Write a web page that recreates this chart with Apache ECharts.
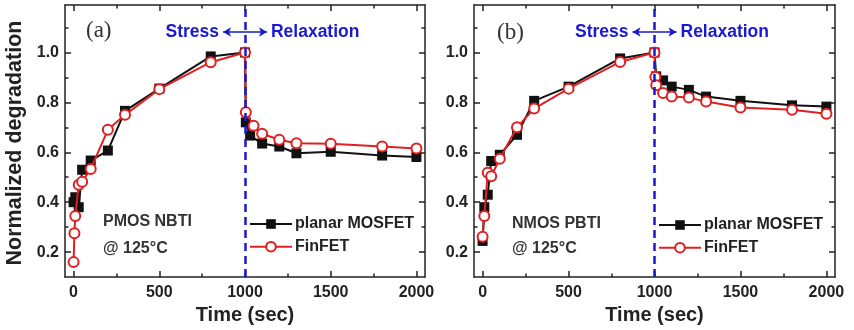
<!DOCTYPE html>
<html>
<head>
<meta charset="utf-8">
<script src="https://cdn.jsdelivr.net/npm/echarts@6/dist/echarts.min.js"></script>
<style>
  html, body { margin: 0; padding: 0; background: #fff; }
  #chart { width: 854px; height: 330px; }
</style>
</head>
<body>
<div id="chart"></div>
<script>
// Normalized degradation during stress (0-1000 s) and relaxation (1000-2000 s)

// (a) PMOS NBTI @ 125 C
const aPlanarTime = [0, 10, 30, 50, 100, 200, 300, 500, 800, 1000, 1005, 1030, 1100, 1200, 1300, 1500, 1800, 2000];
const aPlanarDeg  = [0.40, 0.42, 0.38, 0.53, 0.567, 0.607, 0.766, 0.855, 0.984, 1.0, 0.72, 0.667, 0.635, 0.623, 0.596, 0.602, 0.587, 0.581];
const aFinTime    = [0, 5, 10, 30, 50, 100, 200, 300, 500, 800, 1000, 1005, 1050, 1100, 1200, 1300, 1500, 1800, 2000];
const aFinDeg     = [0.16, 0.276, 0.345, 0.47, 0.482, 0.533, 0.69, 0.75, 0.853, 0.961, 1.0, 0.76, 0.706, 0.674, 0.65, 0.636, 0.634, 0.623, 0.615];

// (b) NMOS PBTI @ 125 C
const bPlanarTime = [0, 10, 30, 50, 100, 200, 300, 500, 800, 1000, 1010, 1050, 1100, 1200, 1300, 1500, 1800, 2000];
const bPlanarDeg  = [0.245, 0.38, 0.43, 0.565, 0.59, 0.67, 0.806, 0.863, 0.976, 1.0, 0.904, 0.888, 0.863, 0.85, 0.823, 0.806, 0.788, 0.783];
const bFinTime    = [0, 10, 30, 50, 100, 200, 300, 500, 800, 1000, 1005, 1010, 1050, 1100, 1200, 1300, 1500, 1800, 2000];
const bFinDeg     = [0.262, 0.345, 0.518, 0.504, 0.574, 0.7, 0.775, 0.855, 0.962, 1.0, 0.902, 0.869, 0.837, 0.823, 0.819, 0.803, 0.779, 0.77, 0.754];

const seriesNames = ['planar MOSFET', 'FinFET'];
const panelTags = ['(a)', '(b)'];
const panelTitles = ['PMOS NBTI', 'NMOS PBTI'];
const tempLabel = '@ 125\u00B0C';

const xMajorTicks = [0, 500, 1000, 1500, 2000];
const xMinorTicks = [250, 750, 1250, 1750];
const yMajorTicks = [0.2, 0.4, 0.6, 0.8, 1.0];
const yMinorTicks = [0.3, 0.5, 0.7, 0.9, 1.1];
const switchTime = 1000;

const FONT = '"Liberation Sans", Arial, sans-serif';
const FRAME = '#222';
const TXT = '#222';
const BLUE = '#1a1acd';
const RED = '#e02020';

const pair = (t, v) => t.map((x, i) => [x, v[i]]);

const panels = [
  { planar: pair(aPlanarTime, aPlanarDeg), fin: pair(aFinTime, aFinDeg) },
  { planar: pair(bPlanarTime, bPlanarDeg), fin: pair(bFinTime, bFinDeg) }
];

const grids = [
  { left: 65, top: 5, width: 360, height: 273 },
  { left: 474, top: 5, width: 361, height: 273 }
];

const tickStyle = { color: FRAME, width: 1.5 };

function xAxesFor(gi) {
  const base = {
    gridIndex: gi, type: 'value', min: -50, max: 2050, interval: 50,
    splitLine: { show: false }, axisLabel: { show: false },
    axisLine: { show: false, onZero: false }
  };
  return [
    Object.assign({}, base, {
      position: 'bottom',
      axisLine: { show: true, onZero: false, lineStyle: tickStyle },
      axisTick: { show: true, inside: true, length: 6, customValues: xMajorTicks, lineStyle: tickStyle },
      axisLabel: { show: true, customValues: xMajorTicks, margin: 7, fontSize: 16, fontWeight: 'bold', color: TXT, fontFamily: FONT,
                   formatter: v => String(v) },
      name: 'Time (sec)', nameLocation: 'middle', nameGap: 27,
      nameTextStyle: { fontSize: 20, fontWeight: 'bold', color: TXT, fontFamily: FONT }
    }),
    Object.assign({}, base, {
      position: 'bottom',
      axisTick: { show: true, inside: true, length: 3.5, customValues: xMinorTicks, lineStyle: tickStyle }
    }),
    Object.assign({}, base, {
      position: 'top',
      axisLine: { show: true, onZero: false, lineStyle: tickStyle },
      axisTick: { show: true, inside: true, length: 6, customValues: xMajorTicks, lineStyle: tickStyle }
    }),
    Object.assign({}, base, {
      position: 'top',
      axisTick: { show: true, inside: true, length: 3.5, customValues: xMinorTicks, lineStyle: tickStyle }
    })
  ];
}

function yAxesFor(gi) {
  const base = {
    gridIndex: gi, type: 'value', min: 0.1, max: 1.19, interval: 0.1,
    splitLine: { show: false }, axisLabel: { show: false },
    axisLine: { show: false, onZero: false }
  };
  return [
    Object.assign({}, base, {
      position: 'left',
      axisLine: { show: true, onZero: false, lineStyle: tickStyle },
      axisTick: { show: true, inside: true, length: 6, customValues: yMajorTicks, lineStyle: tickStyle },
      axisLabel: { show: true, customValues: yMajorTicks, margin: 6, fontSize: 16, fontWeight: 'bold', color: TXT, fontFamily: FONT,
                   formatter: v => v.toFixed(1) }
    }),
    Object.assign({}, base, {
      position: 'left',
      axisTick: { show: true, inside: true, length: 3.5, customValues: yMinorTicks, lineStyle: tickStyle }
    }),
    Object.assign({}, base, {
      position: 'right',
      axisLine: { show: true, onZero: false, lineStyle: tickStyle },
      axisTick: { show: true, inside: true, length: 6, customValues: yMajorTicks, lineStyle: tickStyle }
    }),
    Object.assign({}, base, {
      position: 'right',
      axisTick: { show: true, inside: true, length: 3.5, customValues: yMinorTicks, lineStyle: tickStyle }
    })
  ];
}

const xAxis = [].concat(xAxesFor(0), xAxesFor(1));
const yAxis = [].concat(yAxesFor(0), yAxesFor(1));

const series = [];
panels.forEach((p, gi) => {
  series.push({
    name: seriesNames[0], type: 'line', xAxisIndex: gi * 4, yAxisIndex: gi * 4,
    data: p.planar, symbol: 'rect', symbolSize: 10,
    lineStyle: { color: '#111', width: 2 },
    itemStyle: { color: '#111' },
    z: 3,
    markLine: {
      silent: true, animation: false,
      label: { show: false },
      symbol: 'none',
      lineStyle: { color: BLUE, width: 2.5, type: [8, 5] },
      data: [
        { xAxis: switchTime },
        [
          { coord: [872, 1.082], symbol: 'arrow', symbolSize: [7, 8], lineStyle: { type: 'solid', width: 1.6, color: BLUE } },
          { coord: [1128, 1.082], symbol: 'arrow', symbolSize: [7, 8] }
        ]
      ]
    },
    markPoint: {
      silent: true, animation: false,
      symbol: 'circle', symbolSize: 0,
      data: [
        { coord: [872, 1.082], label: { show: true, position: 'left', distance: 4, formatter: 'Stress',
          fontSize: 17.5, fontWeight: 'bold', color: BLUE, fontFamily: FONT } },
        { coord: [1128, 1.082], label: { show: true, position: 'right', distance: 4, formatter: 'Relaxation',
          fontSize: 17.5, fontWeight: 'bold', color: BLUE, fontFamily: FONT } }
      ]
    }
  });
  series.push({
    name: seriesNames[1], type: 'line', xAxisIndex: gi * 4, yAxisIndex: gi * 4,
    data: p.fin, symbol: 'circle', symbolSize: 10,
    lineStyle: { color: RED, width: 2 },
    itemStyle: { color: '#fff', borderColor: RED, borderWidth: 2 },
    z: 4
  });
});

const legendBase = {
  orient: 'vertical', data: seriesNames, itemWidth: 42, itemHeight: 12, itemGap: 6.7,
  padding: 0, selectedMode: false,
  textStyle: { fontSize: 16, fontWeight: 'bold', color: TXT, fontFamily: FONT, lineHeight: 16, padding: [0, 0, 0, -2] }
};
const legend = [
  Object.assign({}, legendBase, { left: 249, top: 216 }),
  Object.assign({}, legendBase, { left: 658, top: 217 })
];

const textStyle = (extra) => Object.assign({ fill: TXT, font: undefined, fontFamily: FONT, fontWeight: 'bold', fontSize: 16,
  verticalAlign: 'middle', align: 'left' }, extra);

const graphic = [
  { type: 'text', x: 15.5, y: 143, rotation: Math.PI / 2,
    style: textStyle({ text: 'Normalized degradation', fontSize: 21.5, align: 'center' }) }
];
[[86, 31, 103, 222, 249], [497, 33, 512, 224, 249]].forEach((pos, gi) => {
  graphic.push({ type: 'text', x: pos[0], y: pos[1],
    style: textStyle({ text: panelTags[gi], fontFamily: '"Liberation Serif", "Times New Roman", serif',
      fontWeight: 'normal', fontSize: 23, fill: '#333' }) });
  graphic.push({ type: 'text', x: pos[2], y: pos[3], style: textStyle({ text: panelTitles[gi], fill: '#333' }) });
  graphic.push({ type: 'text', x: pos[2], y: pos[4], style: textStyle({ text: tempLabel, fill: '#333' }) });
});

const chart = echarts.init(document.getElementById('chart'), null, { renderer: 'canvas' });
chart.setOption({
  backgroundColor: '#fff',
  animation: false,
  grid: grids,
  xAxis: xAxis,
  yAxis: yAxis,
  legend: legend,
  series: series,
  graphic: graphic
});
</script>
</body>
</html>
